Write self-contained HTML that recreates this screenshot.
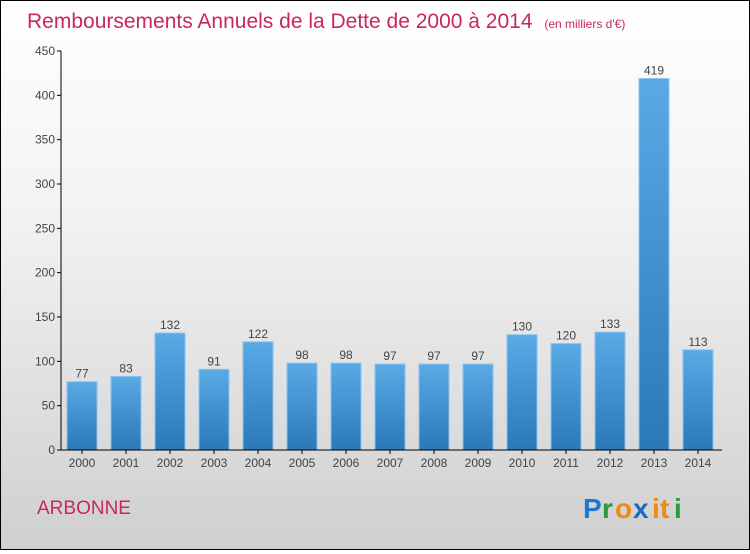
<!DOCTYPE html>
<html><head><meta charset="utf-8"><style>
body{margin:0}
#c{width:748px;height:548px;border:1px solid #000;background:linear-gradient(#ffffff,#f2f2f2 40%,#cfcfcf);position:relative;font-family:"Liberation Sans",sans-serif}
</style></head><body>
<div id="c">
<svg width="748" height="548">
<defs><linearGradient id="g" x1="0" y1="0" x2="0" y2="1"><stop offset="0" stop-color="#5aaae6"/><stop offset="1" stop-color="#2a78b8"/></linearGradient></defs>
<text x="26" y="27" font-size="21" fill="#c8285a">Remboursements Annuels de la Dette de 2000 à 2014 <tspan font-size="12" dx="6">(en milliers d'€)</tspan></text>
<g id="plot"></g>
<text x="36" y="513" font-size="19" fill="#c8285a">ARBONNE</text>
<g font-size="28" font-weight="bold">
<text x="582" y="517" fill="#1a7ad0">P</text><text x="601" y="517" fill="#2a9a3a">r</text><text x="614" y="517" fill="#f08a10">o</text><text x="632" y="517" fill="#1a6ac0">x</text><text x="651" y="517" fill="#f08a10">i</text><text x="659" y="517" fill="#f08a10">t</text><text x="673" y="517" fill="#2a9a3a">i</text></g>
</svg></div>
<script>
const years=["2000","2001","2002","2003","2004","2005","2006","2007","2008","2009","2010","2011","2012","2013","2014"];
const values=[77,83,132,91,122,98,98,97,97,97,130,120,133,419,113];
const yTicks=[0,50,100,150,200,250,300,350,400,450];
const NS="http://www.w3.org/2000/svg",g=document.getElementById('plot');
const y=v=>449-v*(399/450), x=i=>81+i*44;
function el(t,a,txt){const e=document.createElementNS(NS,t);for(const k in a)e.setAttribute(k,a[k]);if(txt!=null)e.textContent=txt;g.appendChild(e);return e;}
yTicks.forEach(t=>{
const l=el('line',{x1:56,x2:60,y1:y(t),y2:y(t),stroke:'#000'});


const s=el('text',{x:54,y:y(t)+4,'font-size':12,fill:'#444','text-anchor':'end'},t);


});
values.forEach((v,i)=>{
const r=el('rect',{x:x(i)-15,y:y(v),width:30,height:y(0)-y(v),fill:'url(#g)',stroke:'#8cc4ee','stroke-width':1});


const t=el('text',{x:x(i),y:y(v)-4,'font-size':12,fill:'#444','text-anchor':'middle'},v);


const xl=el('text',{x:x(i),y:466,'font-size':12,fill:'#444','text-anchor':'middle'},years[i]);


const tk=el('line',{x1:x(i),x2:x(i),y1:449,y2:453,stroke:'#000'});


});
const ya=el('line',{x1:60,x2:60,y1:y(450),y2:449,stroke:'#000'});


const xa=el('line',{x1:60,x2:721,y1:449,y2:449,stroke:'#000'});


</script>
</body></html>
